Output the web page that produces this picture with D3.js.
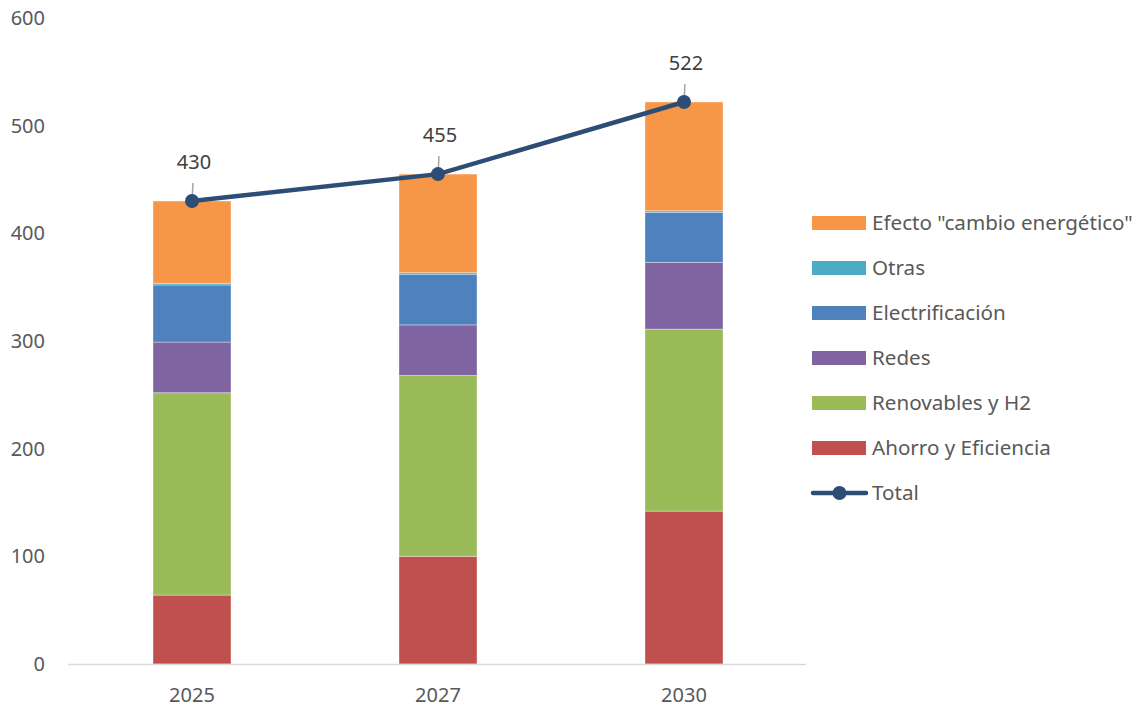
<!DOCTYPE html>
<html>
<head>
<meta charset="utf-8">
<script src="https://cdn.jsdelivr.net/npm/d3@7"></script>
<style>
  body { margin: 0; background: #fff; }
  text { font-family: "Noto Sans", sans-serif; fill: #595959; }
</style>
</head>
<body>
<svg width="1146" height="708"></svg>
<script>
// data
const years = ["2025", "2027", "2030"]
const ahorro = [64, 100, 142]
const renovables = [188, 168, 169]
const redes = [47, 47, 62]
const electrificacion = [53, 47, 46.5]
const otras = [1.5, 1.5, 1.5]
const efecto = [76.5, 91.5, 101]
const total = [430, 455, 522]
const yTicks = [0, 100, 200, 300, 400, 500, 600]

const seriesNames = ["Ahorro y Eficiencia", "Renovables y H2", "Redes", "Electrificación", "Otras", "Efecto \"cambio energético\""]
const seriesValues = [ahorro, renovables, redes, electrificacion, otras, efecto]
const colors = ["#C0504D", "#9BBB59", "#8064A2", "#4F81BD", "#4BACC6", "#F79646"]

const svg = d3.select('svg')

const x = d3.scaleBand().domain(years).range([69, 807])
const y = d3.scaleLinear().domain([0, 600]).range([664, 18])
const barW = x.bandwidth() * 0.317

// rows for the stack
const rows = years.map((yr, i) => {
  const r = { year: yr }
  seriesNames.forEach((s, j) => r[s] = seriesValues[j][i])
  return r
})
const stacked = d3.stack().keys(seriesNames)(rows)

// y tick labels (no gridlines)
svg.append('g').selectAll('text')
  .data(yTicks)
  .join('text')
  .attr('x', 45)
  .attr('y', d => y(d))
  .attr('dy', '0.35em')
  .attr('text-anchor', 'end')
  .style('font-size', '20px')
  .text(d => d)

// bars
svg.append('g').selectAll('g')
  .data(stacked)
  .join('g')
  .attr('fill', (d, i) => colors[i])
  .selectAll('rect')
  .data(d => d)
  .join('rect')
  .attr('x', d => x(d.data.year) + x.bandwidth() / 2 - barW / 2)
  .attr('y', d => y(d[1]))
  .attr('width', barW)
  .attr('height', d => y(d[0]) - y(d[1]))
  .style('stroke', 'rgba(255,255,255,0.35)')
  .style('stroke-width', '1px')

// x axis line
svg.append('line')
  .attr('x1', 68).attr('x2', 806)
  .attr('y1', 664.5).attr('y2', 664.5)
  .style('stroke', '#d9d9d9')
  .style('stroke-width', '1.5px')

svg.append('g').selectAll('text')
  .data(years)
  .join('text')
  .attr('x', d => x(d) + x.bandwidth() / 2)
  .attr('y', 695)
  .attr('dy', '0.35em')
  .attr('text-anchor', 'middle')
  .style('font-size', '20px')
  .text(d => d)

// total line
const cx = (d, i) => x(years[i]) + x.bandwidth() / 2
const line = d3.line().x(cx).y(d => y(d))

// leader lines for labels
svg.append('g').selectAll('line')
  .data(total)
  .join('line')
  .attr('x1', (d, i) => cx(d, i) + 1)
  .attr('x2', (d, i) => cx(d, i))
  .attr('y1', d => y(d) - 18)
  .attr('y2', d => y(d))
  .style('stroke', '#a6a6a6')
  .style('stroke-width', '1.5px')

svg.append('path')
  .datum(total)
  .attr('d', line)
  .style('fill', 'none')
  .style('stroke', '#2C4D75')
  .style('stroke-width', '4.5px')

svg.append('g').selectAll('circle')
  .data(total)
  .join('circle')
  .attr('cx', cx)
  .attr('cy', d => y(d))
  .attr('r', 7)
  .attr('fill', '#2C4D75')

svg.append('g').selectAll('text')
  .data(total)
  .join('text')
  .attr('x', (d, i) => cx(d, i) + 2)
  .attr('y', d => y(d) - 39)
  .attr('dy', '0.35em')
  .attr('text-anchor', 'middle')
  .style('font-size', '20px')
  .style('fill', '#404040')
  .text(d => d)

// legend
const legendItems = seriesNames.map((s, i) => ({ name: s, color: colors[i] })).reverse()
const lg = svg.append('g')
legendItems.forEach((d, i) => {
  const ly = 223 + i * 45
  lg.append('rect')
    .attr('x', 812).attr('y', ly - 7)
    .attr('width', 54).attr('height', 14)
    .attr('fill', d.color)
  lg.append('text')
    .attr('x', 872).attr('y', ly)
    .attr('dy', '0.35em')
    .style('font-size', '20.6px')
    .text(d.name)
})
const ty = 223 + 6 * 45
lg.append('line')
  .attr('x1', 813).attr('x2', 866)
  .attr('y1', ty).attr('y2', ty)
  .style('stroke', '#2C4D75')
  .style('stroke-width', '4.5px')
  .style('stroke-linecap', 'round')
lg.append('circle')
  .attr('cx', 839.5).attr('cy', ty).attr('r', 7)
  .attr('fill', '#2C4D75')
lg.append('text')
  .attr('x', 872).attr('y', ty)
  .attr('dy', '0.35em')
  .style('font-size', '20.6px')
  .text('Total')
</script>
</body>
</html>
